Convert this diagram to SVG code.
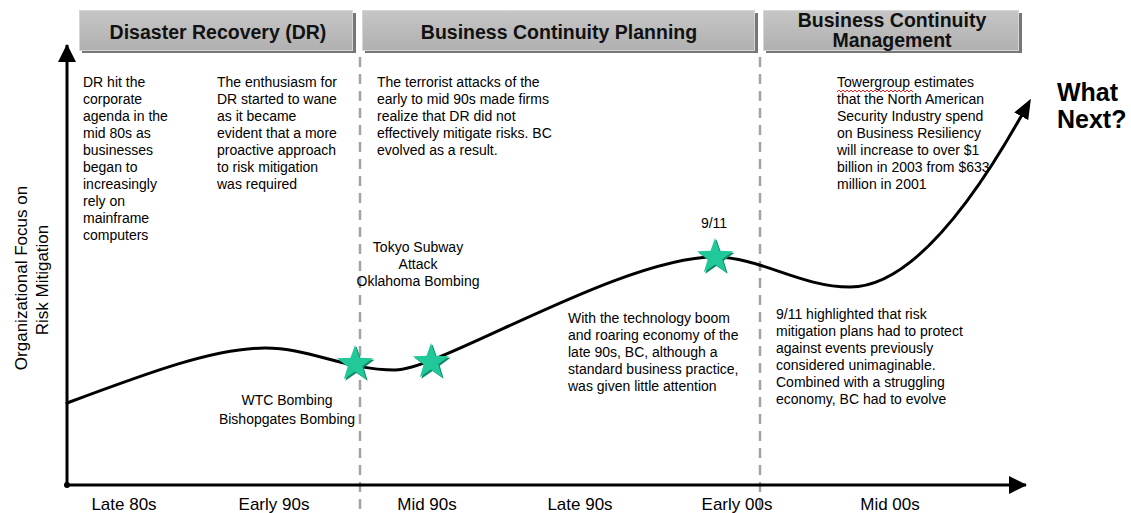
<svg xmlns="http://www.w3.org/2000/svg" xmlns:xlink="http://www.w3.org/1999/xlink" width="1131" height="513" viewBox="0 0 1131 513">
  <style>
    .body { font-family: "Liberation Sans", Arial, sans-serif; font-size: 14px; fill: #000; }
    .head { font-family: "Liberation Sans", Arial, sans-serif; font-size: 19.5px; font-weight: bold; fill: #111; text-anchor: middle; }
    .axis-label { font-family: "Liberation Sans", Arial, sans-serif; font-size: 17px; fill: #000; text-anchor: middle; }
    .mid { text-anchor: middle; }
    .big { font-family: "Liberation Sans", Arial, sans-serif; font-size: 25px; font-weight: bold; fill: #000; }
    .bar-shadow { fill: #777777; }
    .bar-face { fill: url(#barFill); stroke: #d6d6d6; stroke-width: 1; }
    .divider { stroke: #a3a3a3; stroke-width: 2.5; stroke-dasharray: 10 7; fill: none; }
    .axis { stroke: #000; stroke-width: 3; fill: none; }
    .trend { stroke: #000; stroke-width: 3; fill: none; stroke-linecap: round; }
    .star { fill: #21c99a; }
    .star-shade { fill: #0f8a68; }
  </style>
  <defs>
    <linearGradient id="barFill" x1="0" y1="0" x2="0" y2="1">
      <stop offset="0" stop-color="#c6c6c6"/>
      <stop offset="1" stop-color="#b0b0b0"/>
    </linearGradient>
    <path id="starShape" d="M0,-19 L4.47,-6.15 L18.07,-5.87 L7.23,2.35 L11.17,15.37 L0,7.6 L-11.17,15.37 L-7.23,2.35 L-18.07,-5.87 L-4.47,-6.15 Z"/>
    <marker id="curveHead" viewBox="0 0 20 16" markerWidth="20" markerHeight="16" refX="14" refY="8" orient="auto" markerUnits="userSpaceOnUse">
      <path d="M0,0 L20,8 L0,16 Z" fill="#000"/>
    </marker>
    <marker id="axisHead" viewBox="0 0 18 18" markerWidth="18" markerHeight="18" refX="17" refY="9" orient="auto" markerUnits="userSpaceOnUse">
      <path d="M0,0 L18,9 L0,18 Z" fill="#000"/>
    </marker>
  </defs>

  <rect width="1131" height="513" fill="#ffffff"/>

  <!-- phase header bars -->
  <g id="header-dr">
    <rect class="bar-shadow" x="82" y="13" width="274" height="40"/>
    <rect class="bar-face" x="79.5" y="10.5" width="273" height="40"/>
    <text class="head" x="218" y="39">Disaster Recovery (DR)</text>
  </g>
  <g id="header-bcp">
    <rect class="bar-shadow" x="365" y="13" width="393" height="40"/>
    <rect class="bar-face" x="362.5" y="10.5" width="392" height="40"/>
    <text class="head" x="559" y="39">Business Continuity Planning</text>
  </g>
  <g id="header-bcm">
    <rect class="bar-shadow" x="766" y="13" width="256" height="40"/>
    <rect class="bar-face" x="763.5" y="10.5" width="255" height="40"/>
    <text class="head" x="892" y="27">Business Continuity</text>
    <text class="head" x="892" y="47">Management</text>
  </g>

  <!-- axes, phase dividers and trend curve -->
  <g id="connectors">
    <line class="divider" x1="360" y1="57" x2="360" y2="513"/>
    <line class="divider" x1="760" y1="57" x2="760" y2="513"/>
    <line class="axis" x1="67" y1="485" x2="67" y2="45" marker-end="url(#axisHead)"/>
    <line class="axis" x1="67" y1="485" x2="1026" y2="485" marker-end="url(#axisHead)"/>
    <circle cx="67" cy="485" r="3" fill="#000"/>
    <path class="trend" d="M67,403 C150,372 215,348 265,348 C310,348 345,370 395,370 C440,370 620,257 715,257 C760,257 800,287 850,287 C920,287 989,175 1028,104" marker-end="url(#curveHead)"/>
  </g>

  <!-- y axis title -->
  <g id="y-title" class="axis-label">
    <text transform="translate(27,278) rotate(-90)">Organizational Focus on</text>
    <text transform="translate(48,280) rotate(-90)">Risk Mitigation</text>
  </g>

  <!-- x axis periods -->
  <g id="x-periods" class="axis-label">
    <text x="124" y="510">Late 80s</text>
    <text x="274" y="510">Early 90s</text>
    <text x="427" y="510">Mid 90s</text>
    <text x="580" y="510">Late 90s</text>
    <text x="737" y="510">Early 00s</text>
    <text x="890" y="510">Mid 00s</text>
  </g>

  <!-- commentary blocks -->
  <g id="note-dr-agenda" class="body">
    <text x="83" y="87">DR hit the</text>
    <text x="83" y="104">corporate</text>
    <text x="83" y="121">agenda in the</text>
    <text x="83" y="138">mid 80s as</text>
    <text x="83" y="155">businesses</text>
    <text x="83" y="172">began to</text>
    <text x="83" y="189">increasingly</text>
    <text x="83" y="206">rely on</text>
    <text x="83" y="223">mainframe</text>
    <text x="83" y="240">computers</text>
  </g>
  <g id="note-dr-wane" class="body">
    <text x="217" y="87">The enthusiasm for</text>
    <text x="217" y="104">DR started to wane</text>
    <text x="217" y="121">as it became</text>
    <text x="217" y="138">evident that a more</text>
    <text x="217" y="155">proactive approach</text>
    <text x="217" y="172">to risk mitigation</text>
    <text x="217" y="189">was required</text>
  </g>
  <g id="note-bc-evolved" class="body">
    <text x="377" y="87">The terrorist attacks of the</text>
    <text x="377" y="104">early to mid 90s made firms</text>
    <text x="377" y="121">realize that DR did not</text>
    <text x="377" y="138">effectively mitigate risks. BC</text>
    <text x="377" y="155">evolved as a result.</text>
  </g>
  <g id="note-towergroup" class="body">
    <text x="837" y="87">Towergroup estimates</text>
    <text x="837" y="104">that the North American</text>
    <text x="837" y="121">Security Industry spend</text>
    <text x="837" y="138">on Business Resiliency</text>
    <text x="837" y="155">will increase to over $1</text>
    <text x="837" y="172">billion in 2003 from $633</text>
    <text x="837" y="189">million in 2001</text>
    <path d="M837,92 l2,-2 2,2 2,-2 2,2 2,-2 2,2 2,-2 2,2 2,-2 2,2 2,-2 2,2 2,-2 2,2 2,-2 2,2 2,-2 2,2 2,-2 2,2 2,-2 2,2 2,-2 2,2 2,-2 2,2 2,-2 2,2 2,-2 2,2 2,-2 2,2 2,-2 2,2 2,-2 2,2 2,-2 2,2" fill="none" stroke="#e02020" stroke-width="1"/>
  </g>
  <g id="note-tech-boom" class="body">
    <text x="568" y="323">With the technology boom</text>
    <text x="568" y="340">and roaring economy of the</text>
    <text x="568" y="357">late 90s, BC, although a</text>
    <text x="568" y="374">standard business practice,</text>
    <text x="568" y="391">was given little attention</text>
  </g>
  <g id="note-911" class="body">
    <text x="776" y="319">9/11 highlighted that risk</text>
    <text x="776" y="336">mitigation plans had to protect</text>
    <text x="776" y="353">against events previously</text>
    <text x="776" y="370">considered unimaginable.</text>
    <text x="776" y="387">Combined with a struggling</text>
    <text x="776" y="404">economy, BC had to evolve</text>
  </g>
  <g id="what-next" class="big">
    <text x="1057" y="101">What</text>
    <text x="1057" y="128">Next?</text>
  </g>

  <!-- event markers -->
  <g id="event-wtc">
    <use href="#starShape" class="star-shade" x="356.5" y="365.5"/>
    <use href="#starShape" class="star" x="355" y="364"/>
    <text class="body mid" x="287" y="405">WTC Bombing</text>
    <text class="body mid" x="287" y="424">Bishopgates Bombing</text>
  </g>
  <g id="event-tokyo">
    <use href="#starShape" class="star-shade" x="432.5" y="363.5"/>
    <use href="#starShape" class="star" x="431" y="362"/>
    <text class="body mid" x="418" y="252">Tokyo Subway</text>
    <text class="body mid" x="418" y="269">Attack</text>
    <text class="body mid" x="418" y="286">Oklahoma Bombing</text>
  </g>
  <g id="event-911">
    <use href="#starShape" class="star-shade" x="716.5" y="258.5"/>
    <use href="#starShape" class="star" x="715" y="257"/>
    <text class="body mid" x="714" y="228">9/11</text>
  </g>
</svg>
